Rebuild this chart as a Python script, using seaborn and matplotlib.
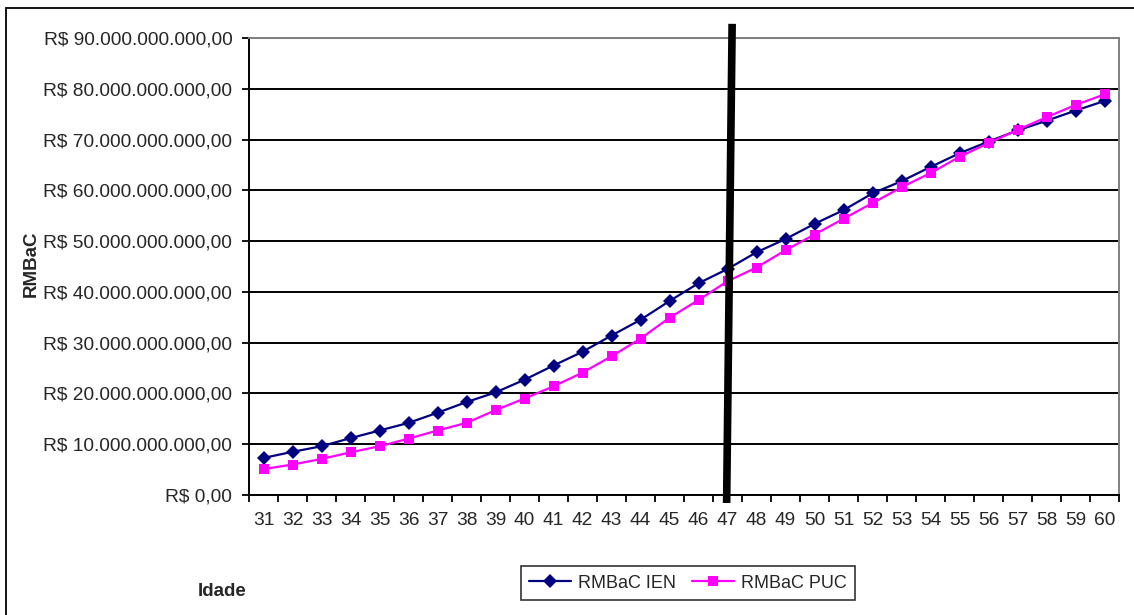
import numpy as np
import pandas as pd
import matplotlib
matplotlib.use("Agg")
import matplotlib.pyplot as plt
import matplotlib.transforms as mtransforms
from matplotlib.ticker import FuncFormatter, MultipleLocator
import seaborn as sns


# DATA (values in billions of R$)

idade = list(range(31, 61))

rmbac_ien = [7.3, 8.5, 9.6, 11.2, 12.7, 14.2, 16.2, 18.3, 20.2, 22.7,
             25.5, 28.2, 31.4, 34.5, 38.2, 41.7, 44.5, 47.8, 50.4, 53.4,
             56.1, 59.4, 61.8, 64.6, 67.3, 69.6, 71.8, 73.7, 75.7, 77.6]

rmbac_puc = [5.1, 6.0, 7.1, 8.4, 9.6, 11.1, 12.7, 14.2, 16.7, 19.0,
             21.4, 24.1, 27.3, 30.8, 34.9, 38.4, 42.1, 44.8, 48.2, 51.3,
             54.4, 57.5, 60.6, 63.4, 66.6, 69.3, 71.9, 74.4, 76.8, 78.9]

series_names = ["RMBaC IEN", "RMBaC PUC"]
marco_idade = 47


df = pd.DataFrame({
    "Idade": idade * 2,
    "RMBaC": rmbac_ien + rmbac_puc,
    "serie": [series_names[0]] * len(idade) + [series_names[1]] * len(idade),
})


sns.set_theme(style="ticks")
plt.rcParams["font.family"] = ["Liberation Sans", "DejaVu Sans"]


fig = plt.figure(figsize=(11.34, 6.15), dpi=100)
ax = fig.add_axes([249 / 1134, 1 - 495 / 615, (1119 - 249) / 1134, (495 - 38) / 615])

sns.lineplot(
    data=df,
    x="Idade",
    y="RMBaC",
    hue="serie",
    style="serie",
    markers={series_names[0]: "D", series_names[1]: "s"},
    dashes=False,
    palette={series_names[0]: "#000080", series_names[1]: "#FF00FF"},
    linewidth=1.6,
    markersize=7.5,
    markeredgewidth=0,
    ax=ax,
    legend=False,
)

# y axis
ax.set_ylim(0, 90)
ax.yaxis.set_major_locator(MultipleLocator(10))


def brl(v, pos):
    s = f"{v * 1e9:,.2f}"
    s = s.replace(",", "X").replace(".", ",").replace("X", ".")
    return "R$ " + s


ax.yaxis.set_major_formatter(FuncFormatter(brl))
ax.yaxis.grid(True, color="black", linewidth=1.4)
ax.set_axisbelow(True)

# x axis (categories)
ax.set_xlim(idade[0] - 0.5, idade[-1] + 0.5)
ax.set_xticks(idade)
ax.set_xticks(np.arange(idade[0] - 0.5, idade[-1] + 1, 1), minor=True)
ax.tick_params(axis="x", which="major", length=0, pad=12, labelsize=13.8)
ax.tick_params(axis="x", which="minor", length=5, width=1.3, color="black", direction="out")
ax.tick_params(axis="y", which="major", length=5, width=1.3, color="black", labelsize=13.8, pad=7)

for side in ["left", "bottom"]:
    ax.spines[side].set_color("black")
    ax.spines[side].set_linewidth(1.4)
for side in ["top", "right"]:
    ax.spines[side].set_visible(True)
    ax.spines[side].set_color("#808080")
    ax.spines[side].set_linewidth(1.4)

ax.set_xlabel("")
ax.set_ylabel("")

fig.text(222 / 1134, 1 - 591 / 615, "Idade", fontsize=13.5, fontweight="bold",
         ha="center", va="center")
fig.text(31 / 1134, 1 - 264 / 615, "RMBaC", fontsize=13.5, fontweight="bold",
         rotation=90, ha="center", va="center")

# thick vertical marker line
trans = mtransforms.blended_transform_factory(ax.transData, ax.transAxes)
ax.plot([marco_idade + 0.16, marco_idade - 0.03], [1.031, -0.0175],
        color="black", linewidth=5.5, transform=trans, clip_on=False, zorder=5,
        solid_capstyle="butt")

# legend
handles = [
    plt.Line2D([], [], color="#000080", marker="D", markersize=7, linewidth=1.6, markeredgewidth=0),
    plt.Line2D([], [], color="#FF00FF", marker="s", markersize=7, linewidth=1.6, markeredgewidth=0),
]
leg = fig.legend(handles, series_names, loc="center", ncol=2,
                 bbox_to_anchor=(688 / 1134, 1 - 583 / 615),
                 frameon=True, fancybox=False, fontsize=13,
                 handlelength=2.3, handletextpad=0.4, columnspacing=0.9,
                 borderpad=0.45, borderaxespad=0)
leg.get_frame().set_edgecolor("black")
leg.get_frame().set_linewidth(1.2)

# outer chart border
fig.patches.append(plt.Rectangle((6 / 1134, -0.1), 1.2, 1 - 8 / 615 + 0.1,
                                 transform=fig.transFigure, fill=False,
                                 edgecolor="black", linewidth=1.3))

plt.savefig("out.png", dpi=100)
plt.close()
